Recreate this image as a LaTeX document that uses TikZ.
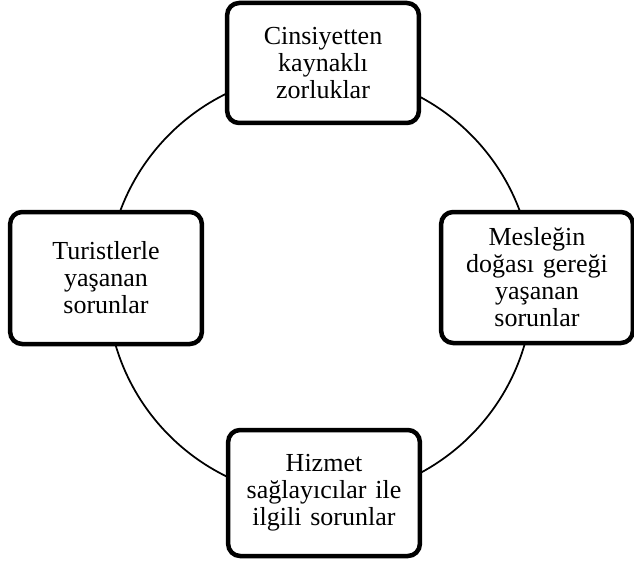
\documentclass[tikz,border=0pt]{standalone}
\usepackage{fontspec}
\setmainfont{Liberation Serif}
\usepackage{tikz}
\usetikzlibrary{calc}

\begin{document}
\begin{tikzpicture}[problembox/.style={minimum width=3.8cm, text width=3.6cm, draw=black, fill=white, text=black, shape=rectangle, rounded corners=0.24cm, line width=0.09cm, font=\fontsize{14.8}{15.4}\selectfont}]

\useasboundingbox (0, 0) rectangle (12.68, 11.28);

\coordinate (centre) at (6.4, 5.58);
\draw[line width=0.035cm] (centre) circle (4.26cm);

\node[align=center] (gender) [problembox, minimum height=2.4cm] at (6.46, 10.02) {Cinsiyetten\\kaynaklı\\zorluklar};
\node[align=center] (nature) [problembox, minimum height=2.62cm] at (10.74, 5.73) {Mesleğin\\doğası gereği\\yaşanan\\sorunlar};
\node[align=center] (provider) [problembox, minimum height=2.52cm] at (6.48, 1.42) {Hizmet\\sağlayıcılar ile\\ilgili sorunlar};
\node[align=center] (tourist) [problembox, minimum height=2.64cm] at (2.12, 5.72) {Turistlerle\\yaşanan\\sorunlar};

\end{tikzpicture}
\end{document}
